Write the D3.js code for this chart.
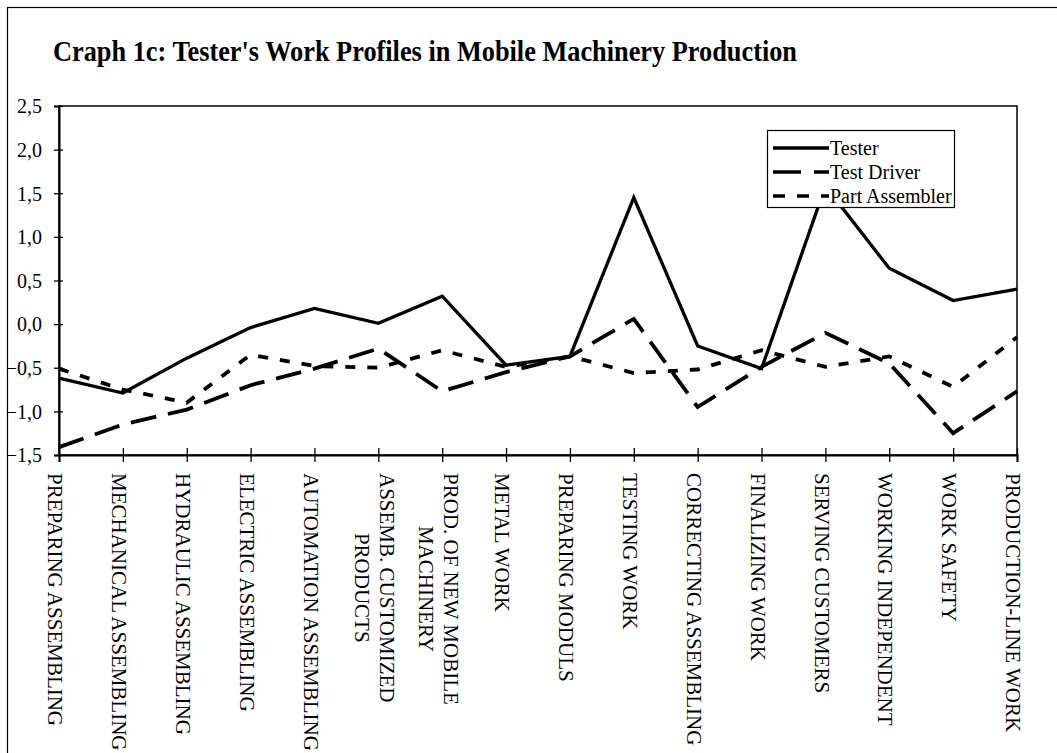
<!DOCTYPE html>
<html>
<head>
<meta charset="utf-8">
<script src="https://cdn.jsdelivr.net/npm/d3@7"></script>
<style>
  html, body { margin: 0; padding: 0; background: #fff; }
  svg { display: block; }
  text { font-family: "Liberation Serif", "Times New Roman", serif; fill: #000; }
</style>
</head>
<body>
<svg id="chart" width="1057" height="753"></svg>
<script>
// ---------- DATA ----------
const categories = [
  "PREPARING ASSEMBLING",
  "MECHANICAL ASSEMBLING",
  "HYDRAULIC ASSEMBLING",
  "ELECTRIC ASSEMBLING",
  "AUTOMATION ASSEMBLING",
  "ASSEMB. CUSTOMIZED|PRODUCTS",
  "PROD. OF NEW MOBILE|MACHINERY",
  "METAL WORK",
  "PREPARING MODULS",
  "TESTING WORK",
  "CORRECTING ASSEMBLING",
  "FINALIZING WORK",
  "SERVING CUSTOMERS",
  "WORKING INDEPENDENT",
  "WORK SAFETY",
  "PRODUCTION-LINE WORK"
];
const tester       = [-0.62, -0.79, -0.39, -0.04, 0.18, 0.01, 0.32, -0.47, -0.37, 1.45, -0.25, -0.51, 1.58, 0.64, 0.27, 0.40];
const testDriver   = [-1.41, -1.15, -0.98, -0.70, -0.51, -0.28, -0.77, -0.55, -0.37, 0.06, -0.95, -0.49, -0.10, -0.45, -1.25, -0.77];
const partAssembler= [-0.51, -0.75, -0.90, -0.35, -0.48, -0.50, -0.30, -0.49, -0.37, -0.56, -0.52, -0.30, -0.49, -0.37, -0.72, -0.15];
const seriesNames  = ["Tester", "Test Driver", "Part Assembler"];
const yTicks       = [-1.5, -1.0, -0.5, 0.0, 0.5, 1.0, 1.5, 2.0, 2.5];
const titleText    = "Craph 1c: Tester's Work Profiles in Mobile Machinery Production";

// ---------- LAYOUT ----------
const svg = d3.select("#chart");
const pLeft = 59, pRight = 1017, pTop = 106, pBottom = 455;

const x = d3.scalePoint().domain(categories).range([pLeft, pRight]);
const y = d3.scaleLinear().domain([-1.5, 2.5]).range([pBottom, pTop]);

// outer frame
svg.append("rect").attr("x", 7.5).attr("y", 7.5).attr("width", 1200).attr("height", 1000)
  .attr("fill", "#fff").attr("stroke", "#000").attr("stroke-width", 1.2);

// title
svg.append("text").attr("x", 53).attr("y", 61)
  .attr("font-size", 29).attr("font-weight", "bold")
  .attr("textLength", 744).attr("lengthAdjust", "spacingAndGlyphs")
  .text(titleText);

// plot frame (top/right)
svg.append("rect").attr("x", pLeft).attr("y", pTop)
  .attr("width", pRight - pLeft).attr("height", pBottom - pTop)
  .attr("fill", "none").attr("stroke", "#000").attr("stroke-width", 1.5);

// y axis
const fmt = v => d3.format(".1f")(v).replace(".", ",");
const yAxis = svg.append("g").attr("transform", `translate(${pLeft},0)`)
  .call(d3.axisLeft(y).tickValues(yTicks).tickFormat(fmt).tickSizeOuter(0).tickSize(5).tickPadding(12));
yAxis.select(".domain").attr("stroke-width", 2);
yAxis.selectAll(".tick line").attr("x1", 4).attr("x2", -5).attr("stroke-width", 1.3);
yAxis.selectAll(".tick text").attr("font-size", 20)
  .attr("font-family", "Liberation Serif, Times New Roman, serif").attr("dy", "0.34em");

// x axis
const xAxis = svg.append("g").attr("transform", `translate(0,${pBottom})`)
  .call(d3.axisBottom(x).tickSizeOuter(0).tickSize(7).tickFormat(""));
xAxis.select(".domain").attr("stroke-width", 2);
xAxis.selectAll(".tick line").attr("y1", -7).attr("y2", 7).attr("stroke-width", 1.3);

// x labels (rotated, top-aligned, multiline centered)
const lineGap = 25;
categories.forEach(c => {
  const lines = c.split("|");
  const n = lines.length;
  const g = svg.append("g")
    .attr("transform", `translate(${x(c) - 3.5},${pBottom + 18}) rotate(90)`);
  const texts = lines.map((ln, k) => g.append("text")
    .attr("font-size", 21)
    .attr("y", -((n - 1) / 2) * lineGap + k * lineGap)
    .attr("dy", "0.35em")
    .text(ln));
  const w0 = texts[0].node().getComputedTextLength();
  texts.forEach(t => t.attr("x", w0 / 2).attr("text-anchor", "middle"));
});

// lines
const styles = [
  { data: tester, dash: null, width: 3.3 },
  { data: testDriver, dash: "26,12", width: 3.8 },
  { data: partAssembler, dash: "10,12", width: 3.8 }
];
const line = d3.line().x((d, i) => x(categories[i])).y(d => y(d));
styles.forEach(s => {
  svg.append("path").datum(s.data)
    .attr("d", line)
    .attr("fill", "none").attr("stroke", "#000")
    .attr("stroke-width", s.width)
    .attr("stroke-linejoin", "miter")
    .attr("stroke-dasharray", s.dash);
});

// legend
const lg = svg.append("g");
lg.append("rect").attr("x", 767.5).attr("y", 130.5).attr("width", 187).attr("height", 77)
  .attr("fill", "#fff").attr("stroke", "#000").attr("stroke-width", 1.2);
const legDash = [null, "28,13", "12,12"];
seriesNames.forEach((name, i) => {
  const yy = 148 + i * 24;
  lg.append("line").attr("x1", 773).attr("x2", 829).attr("y1", yy).attr("y2", yy)
    .attr("stroke", "#000").attr("stroke-width", 3.3).attr("stroke-dasharray", legDash[i]);
  lg.append("text").attr("x", 830).attr("y", yy).attr("dy", "0.33em")
    .attr("font-size", 20).text(name);
});
</script>
</body>
</html>
